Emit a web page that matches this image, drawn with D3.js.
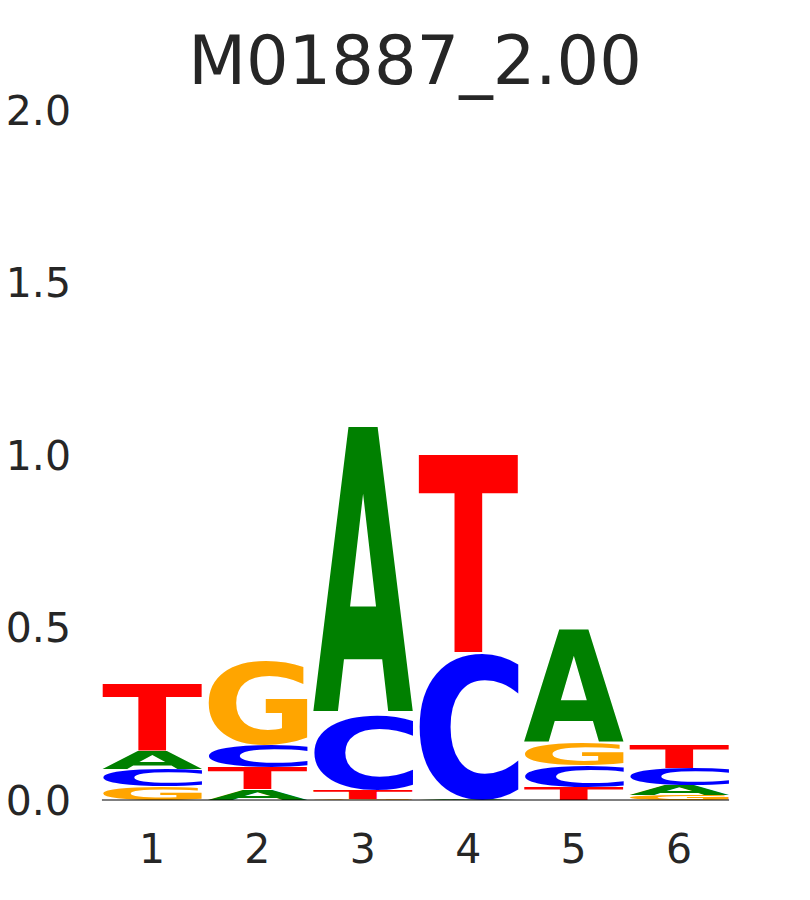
<!DOCTYPE html>
<html>
<head>
<meta charset="utf-8">
<script src="https://cdn.jsdelivr.net/npm/d3@7/dist/d3.min.js"></script>
<style>
  html, body { margin: 0; padding: 0; background: #ffffff; }
  svg { display: block; }
</style>
</head>
<body>
<svg id="chart" width="810" height="900"></svg>
<script>
// ---- data ----
const title = "M01887_2.00";
const positions = [1, 2, 3, 4, 5, 6];
const letters = ["A", "C", "G", "T"];
const valuesA = [0.055, 0.032, 0.835, 0.002, 0.328, 0.029];
const valuesC = [0.050, 0.067, 0.217, 0.426, 0.064, 0.049];
const valuesG = [0.040, 0.243, 0.003, 0.001, 0.066, 0.014];
const valuesT = [0.194, 0.064, 0.027, 0.580, 0.038, 0.070];
const yTicks = [0, 0.5, 1.0, 1.5, 2.0];
const yTickLabels = ["0.0", "0.5", "1.0", "1.5", "2.0"];
const colors = { A: "#008000", C: "#0000ff", G: "#ffa500", T: "#ff0000" };

// ---- layout ----
const svg = d3.select("#chart");
const x = d3.scaleLinear().domain([1, 6]).range([152, 679]);
const y = d3.scaleLinear().domain([0, 2]).range([800, 110]);
const step = x(2) - x(1);
const letterW = 0.95 * step;
const textColor = "#262626";
const glyphFont = "bold 100px 'DejaVu Sans'";

// measure glyph ink bounds
const canvas = document.createElement("canvas");
const ctx = canvas.getContext("2d");
ctx.font = glyphFont;
const metrics = {};
letters.forEach(ch => {
  const m = ctx.measureText(ch);
  metrics[ch] = {
    left: -m.actualBoundingBoxLeft,
    right: m.actualBoundingBoxRight,
    top: -m.actualBoundingBoxAscent,
    bottom: m.actualBoundingBoxDescent
  };
});

// build stacks
const table = { A: valuesA, C: valuesC, G: valuesG, T: valuesT };
const glyphs = [];
positions.forEach((p, i) => {
  const col = letters.map(l => ({ letter: l, value: table[l][i] }))
    .sort((a, b) => a.value - b.value);
  let acc = 0;
  col.forEach(d => {
    glyphs.push({ pos: p, letter: d.letter, y0: acc, y1: acc + d.value });
    acc += d.value;
  });
});

// title
svg.append("text")
  .attr("x", 415).attr("y", 84)
  .attr("text-anchor", "middle")
  .attr("font-family", "'DejaVu Sans'")
  .attr("font-size", 67)
  .attr("fill", textColor)
  .text(title);

// glyphs
svg.append("g").selectAll("text")
  .data(glyphs)
  .join("text")
  .attr("font-family", "'DejaVu Sans'")
  .attr("font-weight", "bold")
  .attr("font-size", 100)
  .attr("fill", d => colors[d.letter])
  .attr("x", 0).attr("y", 0)
  .attr("transform", d => {
    const m = metrics[d.letter];
    const x0 = x(d.pos) - letterW / 2;
    const yTop = y(d.y1);
    const h = y(d.y0) - y(d.y1);
    const sx = letterW / (m.right - m.left);
    const sy = h / (m.bottom - m.top);
    return `translate(${x0},${yTop}) scale(${sx},${sy}) translate(${-m.left},${-m.top})`;
  })
  .text(d => d.letter);

// baseline
svg.append("line")
  .attr("x1", x(1) - letterW / 2).attr("x2", x(6) + letterW / 2)
  .attr("y1", y(0)).attr("y2", y(0))
  .attr("stroke", "#000").attr("stroke-width", 1.2);

// y axis labels
svg.append("g").selectAll("text")
  .data(yTicks)
  .join("text")
  .attr("x", 71)
  .attr("y", d => y(d))
  .attr("dy", "0.36em")
  .attr("text-anchor", "end")
  .attr("font-family", "'DejaVu Sans'")
  .attr("font-size", 41)
  .attr("fill", textColor)
  .text((d, i) => yTickLabels[i]);

// x axis labels
svg.append("g").selectAll("text")
  .data(positions)
  .join("text")
  .attr("x", d => x(d))
  .attr("y", 863)
  .attr("text-anchor", "middle")
  .attr("font-family", "'DejaVu Sans'")
  .attr("font-size", 41)
  .attr("fill", textColor)
  .text(d => String(d));
</script>
</body>
</html>
